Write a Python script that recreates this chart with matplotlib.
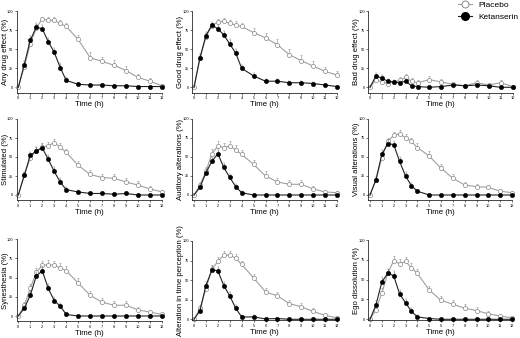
import matplotlib
matplotlib.use("Agg")
import matplotlib.pyplot as plt
import numpy as np

plt.rcParams["font.family"] = ["Liberation Sans", "DejaVu Sans"]

time_h = [0, 0.5, 1, 1.5, 2, 2.5, 3, 3.5, 4, 5, 6, 7, 8, 9, 10, 11, 12]
x_ticks = list(range(0, 13))
y_ticks = [0, 25, 50, 75, 100]

titles = [
    "Any drug effect (%)", "Good drug effect (%)", "Bad drug effect (%)",
    "Stimulated (%)", "Auditory alterations (%)", "Visual alterations (%)",
    "Synesthesia (%)", "Alteration in time perception (%)", "Ego dissolution (%)",
]

placebo = [
    [0, 27, 57, 78, 90, 88, 88, 84, 80, 63, 39, 34, 29, 22, 13, 8, 2],
    [0, 38, 66, 81, 86, 87, 84, 82, 80, 72, 65, 56, 43, 35, 28, 21, 16],
    [0, 10, 7, 5, 7, 9, 13, 8, 6, 10, 7, 4, 2, 6, 3, 6, 1],
    [0, 26, 49, 58, 63, 65, 69, 63, 56, 39, 27, 23, 22, 17, 13, 8, 4],
    [0, 13, 31, 54, 64, 62, 64, 59, 53, 40, 25, 17, 14, 14, 8, 4, 3],
    [0, 19, 49, 70, 78, 80, 75, 70, 62, 51, 35, 22, 13, 11, 10, 5, 3],
    [0, 14, 36, 57, 66, 67, 66, 63, 59, 43, 27, 18, 14, 14, 8, 5, 2],
    [0, 14, 39, 64, 74, 82, 82, 78, 70, 53, 35, 30, 20, 16, 10, 5, 2],
    [0, 12, 33, 58, 74, 70, 73, 65, 58, 37, 24, 19, 14, 11, 7, 4, 2],
]
placebo_err = [
    [0, 3, 5, 5, 3, 4, 4, 5, 5, 6, 7, 6, 7, 6, 5, 4, 2],
    [0, 4, 5, 4, 4, 4, 5, 5, 5, 6, 7, 7, 7, 7, 7, 6, 5],
    [0, 5, 3, 3, 3, 4, 5, 4, 3, 5, 4, 2, 2, 3, 2, 3, 1],
    [0, 4, 5, 5, 5, 5, 5, 5, 5, 6, 6, 5, 6, 5, 5, 4, 3],
    [0, 4, 5, 6, 6, 6, 6, 6, 6, 6, 6, 5, 5, 5, 4, 3, 2],
    [0, 3, 5, 5, 5, 5, 5, 5, 6, 6, 6, 5, 4, 4, 3, 2, 2],
    [0, 4, 6, 6, 6, 6, 6, 6, 6, 6, 6, 5, 5, 5, 4, 3, 2],
    [0, 4, 5, 5, 5, 5, 5, 5, 5, 5, 5, 5, 5, 5, 4, 3, 1],
    [0, 4, 6, 6, 6, 6, 6, 6, 6, 5, 5, 5, 5, 4, 3, 2, 1],
]
ketanserin = [
    [0, 30, 62, 79, 77, 60, 46, 26, 9, 4, 3, 3, 2, 2, 1, 1, 1],
    [0, 39, 68, 82, 77, 69, 57, 45, 25, 15, 8, 8, 6, 6, 5, 3, 1],
    [0, 15, 12, 8, 7, 6, 8, 2, 1, 0, 1, 3, 2, 3, 2, 0, 0],
    [0, 26, 52, 58, 62, 47, 31, 17, 7, 4, 2, 2, 1, 2, 0, 0, 0],
    [0, 10, 29, 44, 54, 36, 23, 11, 3, 0, 0, 0, 0, 0, 0, 0, 0],
    [0, 20, 53, 67, 66, 44, 25, 12, 5, 0, 0, 0, 0, 0, 0, 0, 0],
    [0, 10, 27, 52, 59, 36, 20, 13, 2, 0, 0, 0, 0, 0, 0, 0, 0],
    [0, 11, 43, 63, 62, 43, 30, 14, 3, 3, 0.5, 1, 0, 0, 0, 0, 0],
    [0, 18, 47, 58, 55, 32, 21, 10, 3, 1, 0, 0, 0, 0, 0, 0, 0],
]
ketanserin_err = [
    [0, 4, 5, 5, 5, 5, 6, 6, 4, 2, 2, 2, 1, 1, 1, 1, 1],
    [0, 5, 5, 4, 5, 5, 6, 6, 5, 4, 3, 3, 2, 2, 2, 2, 1],
    [0, 4, 4, 3, 2, 2, 3, 1, 1, 0, 1, 1, 1, 1, 1, 0, 0],
    [0, 4, 5, 5, 5, 6, 6, 5, 3, 2, 1, 1, 1, 1, 0, 0, 0],
    [0, 3, 5, 6, 6, 6, 5, 4, 2, 0, 0, 0, 0, 0, 0, 0, 0],
    [0, 4, 6, 5, 5, 6, 5, 4, 2, 0, 0, 0, 0, 0, 0, 0, 0],
    [0, 3, 5, 6, 6, 6, 5, 4, 1, 0, 0, 0, 0, 0, 0, 0, 0],
    [0, 4, 5, 5, 5, 5, 5, 4, 2, 2, 1, 1, 0, 0, 0, 0, 0],
    [0, 5, 6, 6, 6, 5, 5, 4, 2, 1, 0, 0, 0, 0, 0, 0, 0],
]

W, H = 520, 338
# pixel boxes: x of t=0, x of t=12, y of 100 %, y of 0 %, lower y limit
boxes = [
    (18.3, 162, 11.3, 87.3, -7), (194, 337, 11.3, 87.3, -7), (370, 512.5, 11.3, 87.3, -7),
    (18.3, 162, 119, 195, -7), (194, 337, 118.5, 195, -7), (370, 512, 118.5, 195, -7),
    (18.3, 162, 239.3, 316, -7), (194, 337, 241, 319.3, -1), (370, 512, 240, 319.3, -1),
]
label_x = [5.5, 180, 356]  # centre of the y label, pixels

PL_COL = "#a0a0a0"
fig = plt.figure(figsize=(W / 100, H / 100), dpi=100)

for i, (x0, x12, y100, y0, ylo) in enumerate(boxes):
    xlo, xhi = -0.13, 12.0
    sx = (x12 - x0) / 12
    sy = (y0 - y100) / 100
    left = x0 + xlo * sx
    right = x12
    top = y100
    bottom = y0 - ylo * sy
    ax = fig.add_axes([left / W, 1 - bottom / H, (right - left) / W, (bottom - top) / H])

    pe = np.array(placebo_err[i])
    ke = np.array(ketanserin_err[i])
    ax.errorbar(time_h, placebo[i], yerr=[np.zeros_like(pe), pe], color=PL_COL,
                lw=0.8, elinewidth=0.5, capsize=1.0, capthick=0.5, marker="o",
                ms=3.0, mfc="white", mec="#888888", mew=0.5, clip_on=False, zorder=2)
    ax.errorbar(time_h, ketanserin[i], yerr=[np.zeros_like(ke), ke], color="#222222",
                ecolor="#777777", lw=0.8, elinewidth=0.5, capsize=1.0, capthick=0.5,
                marker="o", ms=3.2, mfc="black", mec="black", mew=0.3,
                markevery=slice(1, None), clip_on=False, zorder=3)

    ax.set_xlim(xlo, xhi)
    ax.set_ylim(ylo, 100)
    ax.set_xticks(x_ticks)
    ax.set_yticks(y_ticks)
    ax.tick_params(labelsize=2.8, length=1.5, width=0.4, pad=1)
    for s in ["top", "right"]:
        ax.spines[s].set_visible(False)
    for s in ["left", "bottom"]:
        ax.spines[s].set_linewidth(0.5)
    ax.spines["bottom"].set_bounds(xlo, 12)
    ax.set_xlabel("Time (h)", fontsize=5.6, labelpad=1)
    ax.set_ylabel(titles[i], fontsize=5.6)
    lx = label_x[i % 3] + 3.7  # right edge of the rotated label
    ax.yaxis.set_label_coords((lx - left) / (right - left), 0.5)

# legend
h_pl, = plt.plot([], [], color=PL_COL, lw=0.8, marker="o", ms=5.0, mfc="white",
                 mec="#888888", mew=0.7)
h_ke, = plt.plot([], [], color="#222222", lw=0.8, marker="o", ms=5.5, mfc="black", mec="black")
fig.legend([h_pl, h_ke], ["Placebo", "Ketanserin"], loc="upper left",
           bbox_to_anchor=(455 / W, 1 + 2 / H), frameon=False, fontsize=6,
           handlelength=1.6, handletextpad=0.8, labelspacing=0.45, borderaxespad=0)

fig.savefig("out.png", dpi=100)
